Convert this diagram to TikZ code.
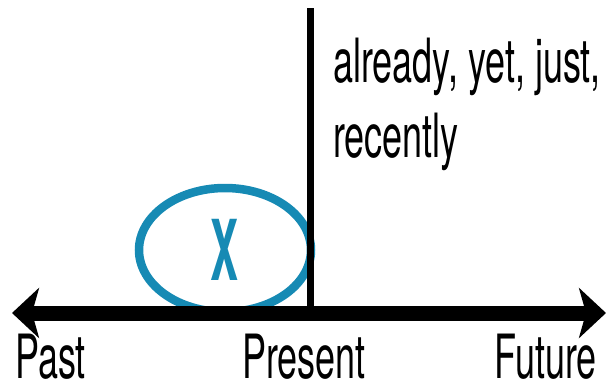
\documentclass[tikz,border=0pt]{standalone}
\usepackage{fontspec}
\setmainfont[FakeStretch=0.59]{TeX Gyre Heros}
\newfontfamily\xfont[FakeStretch=0.5]{TeX Gyre Heros}
\usetikzlibrary{arrows.meta,shapes.geometric}
\definecolor{ringblue}{RGB}{22,138,180}
\tikzset{
  lbl/.style={inner sep=0pt, font=\fontsize{61}{75}\selectfont},
  ring/.style={ellipse, draw=ringblue, line width=8.5pt, inner sep=0pt,
    minimum width=172pt, minimum height=124pt, text=ringblue,
    font=\xfont\bfseries\fontsize{84}{84}\selectfont},
  axis/.style={line width=15pt, {Stealth[length=27pt,width=50pt,inset=7pt]}-{Stealth[length=27pt,width=50pt,inset=7pt]}},
  nowline/.style={line width=7pt}
}
\begin{document}
\begin{tikzpicture}[x=1pt,y=-1pt]
\useasboundingbox (0,0) rectangle (607,391);
\node[ring] (ring) at (225,250) {X};
\coordinate (pastend) at (12,313);
\coordinate (futend) at (606,313);
\coordinate (nowtop) at (310.5,8);
\coordinate (nowbot) at (310.5,313);
\draw[nowline] (nowtop) -- (nowbot);
\draw[axis] (pastend) -- (futend);
\node[lbl, anchor=base west] (t1) at (333,82) {already, yet, just,};
\node[lbl, anchor=base west] (t2) at (333,157) {recently};
\node[lbl, anchor=base west] (past) at (15,378) {Past};
\node[lbl, anchor=base west] (present) at (242,378) {Present};
\node[lbl, anchor=base east] (future) at (597,378) {Future};
\end{tikzpicture}
\end{document}
